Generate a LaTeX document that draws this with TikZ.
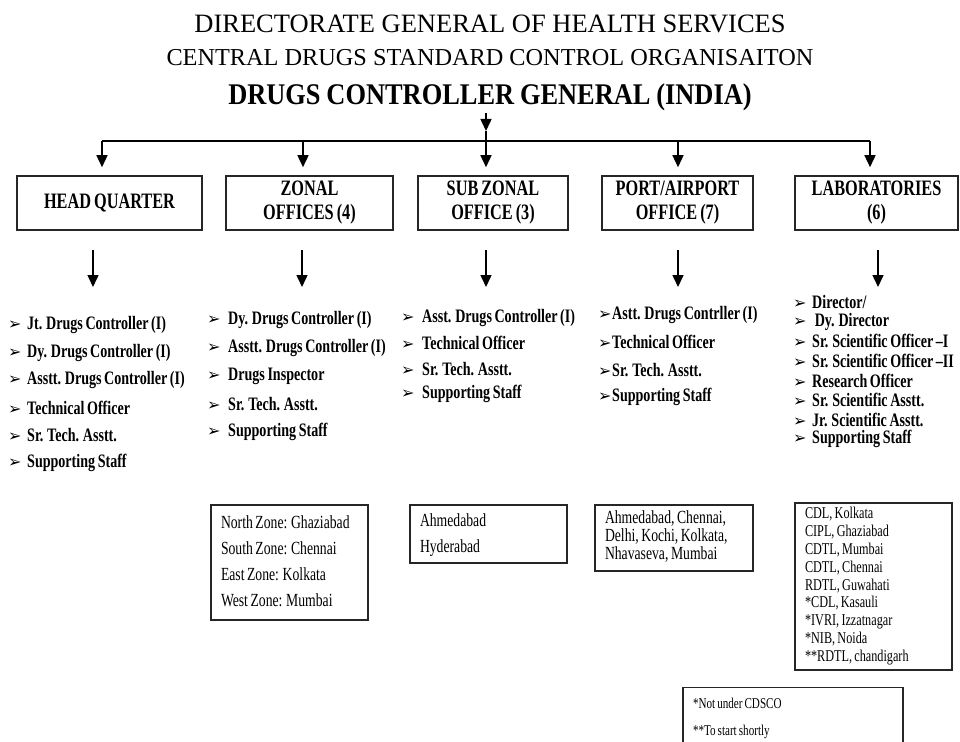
\documentclass[tikz,border=0pt]{standalone}
\usepackage{fontspec}
\setmainfont{Liberation Serif}
\newfontfamily\condfont{Liberation Serif}[FakeStretch=0.74, WordSpace=0.74]
\newfontfamily\titlefont{Liberation Serif}[FakeStretch=0.88, WordSpace=0.88]
\newfontfamily\bulfont{DejaVu Sans}
\usetikzlibrary{arrows.meta,positioning}

\newcommand{\bul}[1]{\makebox[#1][l]{\bulfont\fontsize{16}{16}\selectfont ➢}}
\newcommand{\places}[2]{\begin{tabular}{@{}p{#1}@{}}#2\end{tabular}}

\tikzset{
  title/.style={inner sep=2pt},
  unit/.style={draw=black!85, line width=1.6pt, minimum height=54pt, align=center, inner sep=0pt,
    font=\condfont\bfseries\fontsize{22}{24}\selectfont},
  staff/.style={anchor=west, inner sep=0pt, font=\condfont\bfseries\fontsize{19}{22}\selectfont},
  place/.style={draw=black!85, line width=1.4pt, inner xsep=10pt, inner ysep=0pt,
    font=\condfont\fontsize{18.5}{26}\selectfont},
  link/.style={line width=1.5pt},
  arr/.style={line width=1.5pt, -{Triangle[length=12pt,width=11pt]}},
}

\begin{document}
\begin{tikzpicture}[x=1pt,y=-1pt]
\useasboundingbox (0,0) rectangle (960,741);

% titles
\node[title, font=\fontsize{26.5}{26.5}\selectfont] (dghs) at (490,24) {DIRECTORATE GENERAL OF HEALTH SERVICES};
\node[title, font=\fontsize{24.3}{24.3}\selectfont] (cdsco) at (490,58) {CENTRAL DRUGS STANDARD CONTROL ORGANISAITON};
\node[title, font=\titlefont\bfseries\fontsize{30}{30}\selectfont] (dcg) at (490,97) {DRUGS CONTROLLER GENERAL (INDIA)};

% offices
\node[unit, minimum width=185pt] (hq) at (109.5,203) {HEAD QUARTER};
\node[unit, minimum width=167pt] (zonal) at (309.5,203) {ZONAL\\OFFICES (4)};
\node[unit, minimum width=150pt] (subzonal) at (493,203) {SUB ZONAL\\OFFICE (3)};
\node[unit, minimum width=151pt] (port) at (677.5,203) {PORT/AIRPORT\\OFFICE (7)};
\node[unit, minimum width=163pt] (labs) at (876.5,203) {LABORATORIES\\(6)};

% connectors from the top
\coordinate (dcg-tip) at (486,131);
\coordinate (split) at (486,141);
\draw[arr] (dcg.south -| split) -- (dcg-tip);
\draw[link] (dcg-tip) -- (split);
\coordinate (split-w) at (102,141);
\coordinate (split-e) at (870,141);
\draw[link] (split-w) -- (split-e);
\foreach \nm/\x in {hq/102,zonal/303,subzonal/486,port/678,labs/870}{
  \coordinate (\nm-top) at (\x,141);
  \draw[arr, shorten >=8pt] (\nm-top) -- (\nm-top |- \nm.north);
}

% arrows down to the staff
\foreach \nm/\x in {hq/93,zonal/302,subzonal/486,port/678,labs/878}{
  \coordinate (\nm-in) at (\x,250);
  \coordinate (\nm-out) at (\x,287);
  \draw[arr] (\nm-in) -- (\nm-out);
}

% staff lists
\foreach \txt [count=\i from 0] in {Jt. Drugs Controller (I), Dy. Drugs Controller (I),
    Asstt. Drugs Controller (I), Technical Officer, Sr. Tech. Asstt., Supporting Staff}
  \node[staff] (hq-\i) at (8,{325+27.6*\i}) {\bul{19pt}\txt};
\foreach \txt [count=\i from 0] in {Dy. Drugs Controller (I), Asstt. Drugs Controller (I),
    Drugs Inspector, Sr. Tech. Asstt., Supporting Staff}
  \node[staff] (zonal-\i) at (207,{320+28*\i}) {\bul{21pt}\txt};
\foreach \txt [count=\i from 0] in {Asst. Drugs Controller (I), Technical Officer,
    Sr. Tech. Asstt., Supporting Staff}
  \node[staff] (subzonal-\i) at (401,{318+25.3*\i}) {\bul{21pt}\txt};
\foreach \txt [count=\i from 0] in {Astt. Drugs Contrller (I), Technical Officer,
    Sr. Tech. Asstt., Supporting Staff}
  \node[staff] (port-\i) at (598,{315+27.3*\i}) {\bul{14pt}\txt};
\foreach \txt [count=\i from 0] in {Director/, \ Dy. Director, Sr. Scientific Officer –I,
    Sr. Scientific Officer –II, Research Officer, Sr. Scientific Asstt., Jr. Scientific Asstt.,
    Supporting Staff}
  \node[staff] (labs-\i) at (793,{302+19.6*\i}) {\bul{19pt}\txt};

% locations
\node[place, minimum height=115pt] (zonal-loc) at (289.5,562.5)
  {\places{137pt}{North Zone: Ghaziabad\\South Zone: Chennai\\East Zone: Kolkata\\West Zone: Mumbai}};
\node[place, minimum height=58pt] (subzonal-loc) at (488.5,534)
  {\places{137pt}{Ahmedabad\\Hyderabad}};
\node[place, minimum height=66pt, font=\condfont\fontsize{18.5}{17.5}\selectfont]
  (port-loc) at (674,538) {\places{138pt}{Ahmedabad, Chennai,\\Delhi, Kochi, Kolkata,\\Nhavaseva, Mumbai}};
\node[place, minimum height=167pt, font=\condfont\fontsize{16.5}{17.8}\selectfont]
  (labs-loc) at (873.5,586.5) {\places{137pt}{CDL, Kolkata\\CIPL, Ghaziabad\\CDTL, Mumbai\\CDTL, Chennai\\RDTL, Guwahati\\
  {*}CDL, Kasauli\\{*}IVRI, Izzatnagar\\{*}NIB, Noida\\{*}*RDTL, chandigarh}};

% note
\node[place, anchor=north, inner xsep=10pt, inner ysep=2pt,
  font=\condfont\fontsize{15}{27}\selectfont] (note) at (793,687)
  {\places{200pt}{*Not under CDSCO\\{*}*To start shortly}};
\end{tikzpicture}
\end{document}
